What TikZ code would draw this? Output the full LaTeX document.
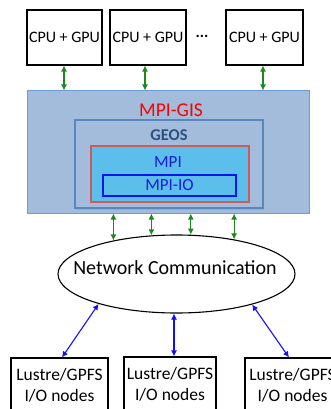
\documentclass[tikz,border=0pt]{standalone}
\usepackage{fontspec}
\setmainfont{Carlito}
\usetikzlibrary{arrows.meta,shapes.geometric,shadows}
\definecolor{gisfill}{HTML}{A4BCDB}
\definecolor{gisdraw}{HTML}{6C9BD8}
\definecolor{geosdraw}{HTML}{5A86BE}
\definecolor{geostext}{HTML}{2C5282}
\definecolor{mpifill}{HTML}{5CBFEB}
\definecolor{mpidraw}{HTML}{D05A5A}
\definecolor{iodraw}{HTML}{0A14F0}
\definecolor{mpitext}{HTML}{1A1AE0}
\definecolor{garrowc}{HTML}{1A8A1A}
\definecolor{barrowc}{HTML}{1010FF}
\tikzset{
  cpubox/.style={draw=black, line width=1.1pt, minimum height=55pt, inner sep=0pt, font=\fontsize{16}{18}\selectfont},
  iobox/.style={draw=black, line width=1.1pt, minimum height=55pt, inner sep=0pt, align=center, font=\fontsize{17.5}{21}\selectfont},
  garrow/.style={draw=garrowc, line width=1.1pt, {Latex[length=6pt,width=6pt]}-{Latex[length=6pt,width=6pt]}},
  barrow/.style={draw=barrowc, line width=1.1pt, {Latex[length=6pt,width=6pt]}-{Latex[length=6pt,width=6pt]}},
}
\begin{document}
\begin{tikzpicture}[x=1pt,y=-1pt]
\useasboundingbox (0,0) rectangle (331,409);
\clip (0,0) rectangle (331,409);
% CPU boxes
\node[cpubox, minimum width=75pt] (c1) at (64.5,37.5) {CPU + GPU};
\node[cpubox, minimum width=76pt] (c2) at (148,37.5) {CPU + GPU};
\node[cpubox, minimum width=77pt] (c3) at (264.5,37.5) {CPU + GPU};
\node[font=\fontsize{16}{18}\selectfont\bfseries] (dots) at (202,36.5) {...};
% MPI-GIS
\node[draw=gisdraw, fill=gisfill, line width=1pt, minimum width=282pt, minimum height=122pt, inner sep=0pt] (gis) at (168,152) {};
\node[text=red, font=\fontsize{19.5}{22}\selectfont] (gistxt) at (171,110) {MPI-GIS};
\node[draw=geosdraw, fill=gisfill, line width=1.2pt, minimum width=188pt, minimum height=88pt, inner sep=0pt,
      drop shadow={shadow xshift=1pt, shadow yshift=-1.5pt, opacity=0.25}] (geos) at (169,164) {};
\node[text=geostext, font=\fontsize{16.5}{19}\selectfont\bfseries] (geostxt) at (169,135) {GEOS};
\node[draw=mpidraw, fill=mpifill, line width=1.1pt, minimum width=158pt, minimum height=56pt, inner sep=0pt] (mpi) at (170,174) {};
\node[text=mpitext, font=\fontsize{17}{19}\selectfont] (mpitxt) at (168,162) {MPI};
\node[draw=iodraw, fill=mpifill, line width=1.3pt, minimum width=133pt, minimum height=21pt, inner sep=0pt, text=mpitext, font=\fontsize{17}{19}\selectfont] (mpiio) at (169.5,185.5) {MPI-IO};
% network
\node[draw=black, ellipse, line width=1.1pt, minimum width=237pt, minimum height=78pt, inner sep=0pt] (net) at (176.5,274) {};
\node[font=\fontsize{20}{22}\selectfont] (nettxt) at (175,268) {Network Communication};
% IO boxes
\node[iobox, minimum width=97pt] (io1) at (59.5,385.5) {Lustre/GPFS\\I/O nodes};
\node[iobox, minimum width=92pt] (io2) at (170,384.5) {Lustre/GPFS\\I/O nodes};
\node[iobox, minimum width=95pt] (io3) at (292.5,385.5) {Lustre/GPFS\\I/O nodes};
% green arrows top
\draw[garrow] ([xshift=-0.5pt]c1.south) -- ([xshift=-0.5pt]c1.south |- gis.north);
\draw[garrow] ([xshift=-3pt]c2.south) -- ([xshift=-3pt]c2.south |- gis.north);
\draw[garrow] ([xshift=-1.5pt]c3.south) -- ([xshift=-1.5pt]c3.south |- gis.north);
% green arrows bottom
\draw[garrow] (gis.south -| net.152.6) -- (net.152.6);
\draw[garrow] (gis.south -| net.123.8) -- (net.123.8);
\draw[garrow] (gis.south -| net.70.8) -- (net.70.8);
\draw[garrow] (gis.south -| net.31.8) -- (net.31.8);
% blue arrows
\draw[barrow] (net.201) -- ([xshift=2.5pt]io1.north);
\draw[barrow] ([xshift=-2.5pt]net.south) -- ([xshift=-2.5pt]net.south |- io2.north);
\draw[barrow] (net.338.7) -- ([xshift=-3.5pt]io3.north);
\end{tikzpicture}
\end{document}
